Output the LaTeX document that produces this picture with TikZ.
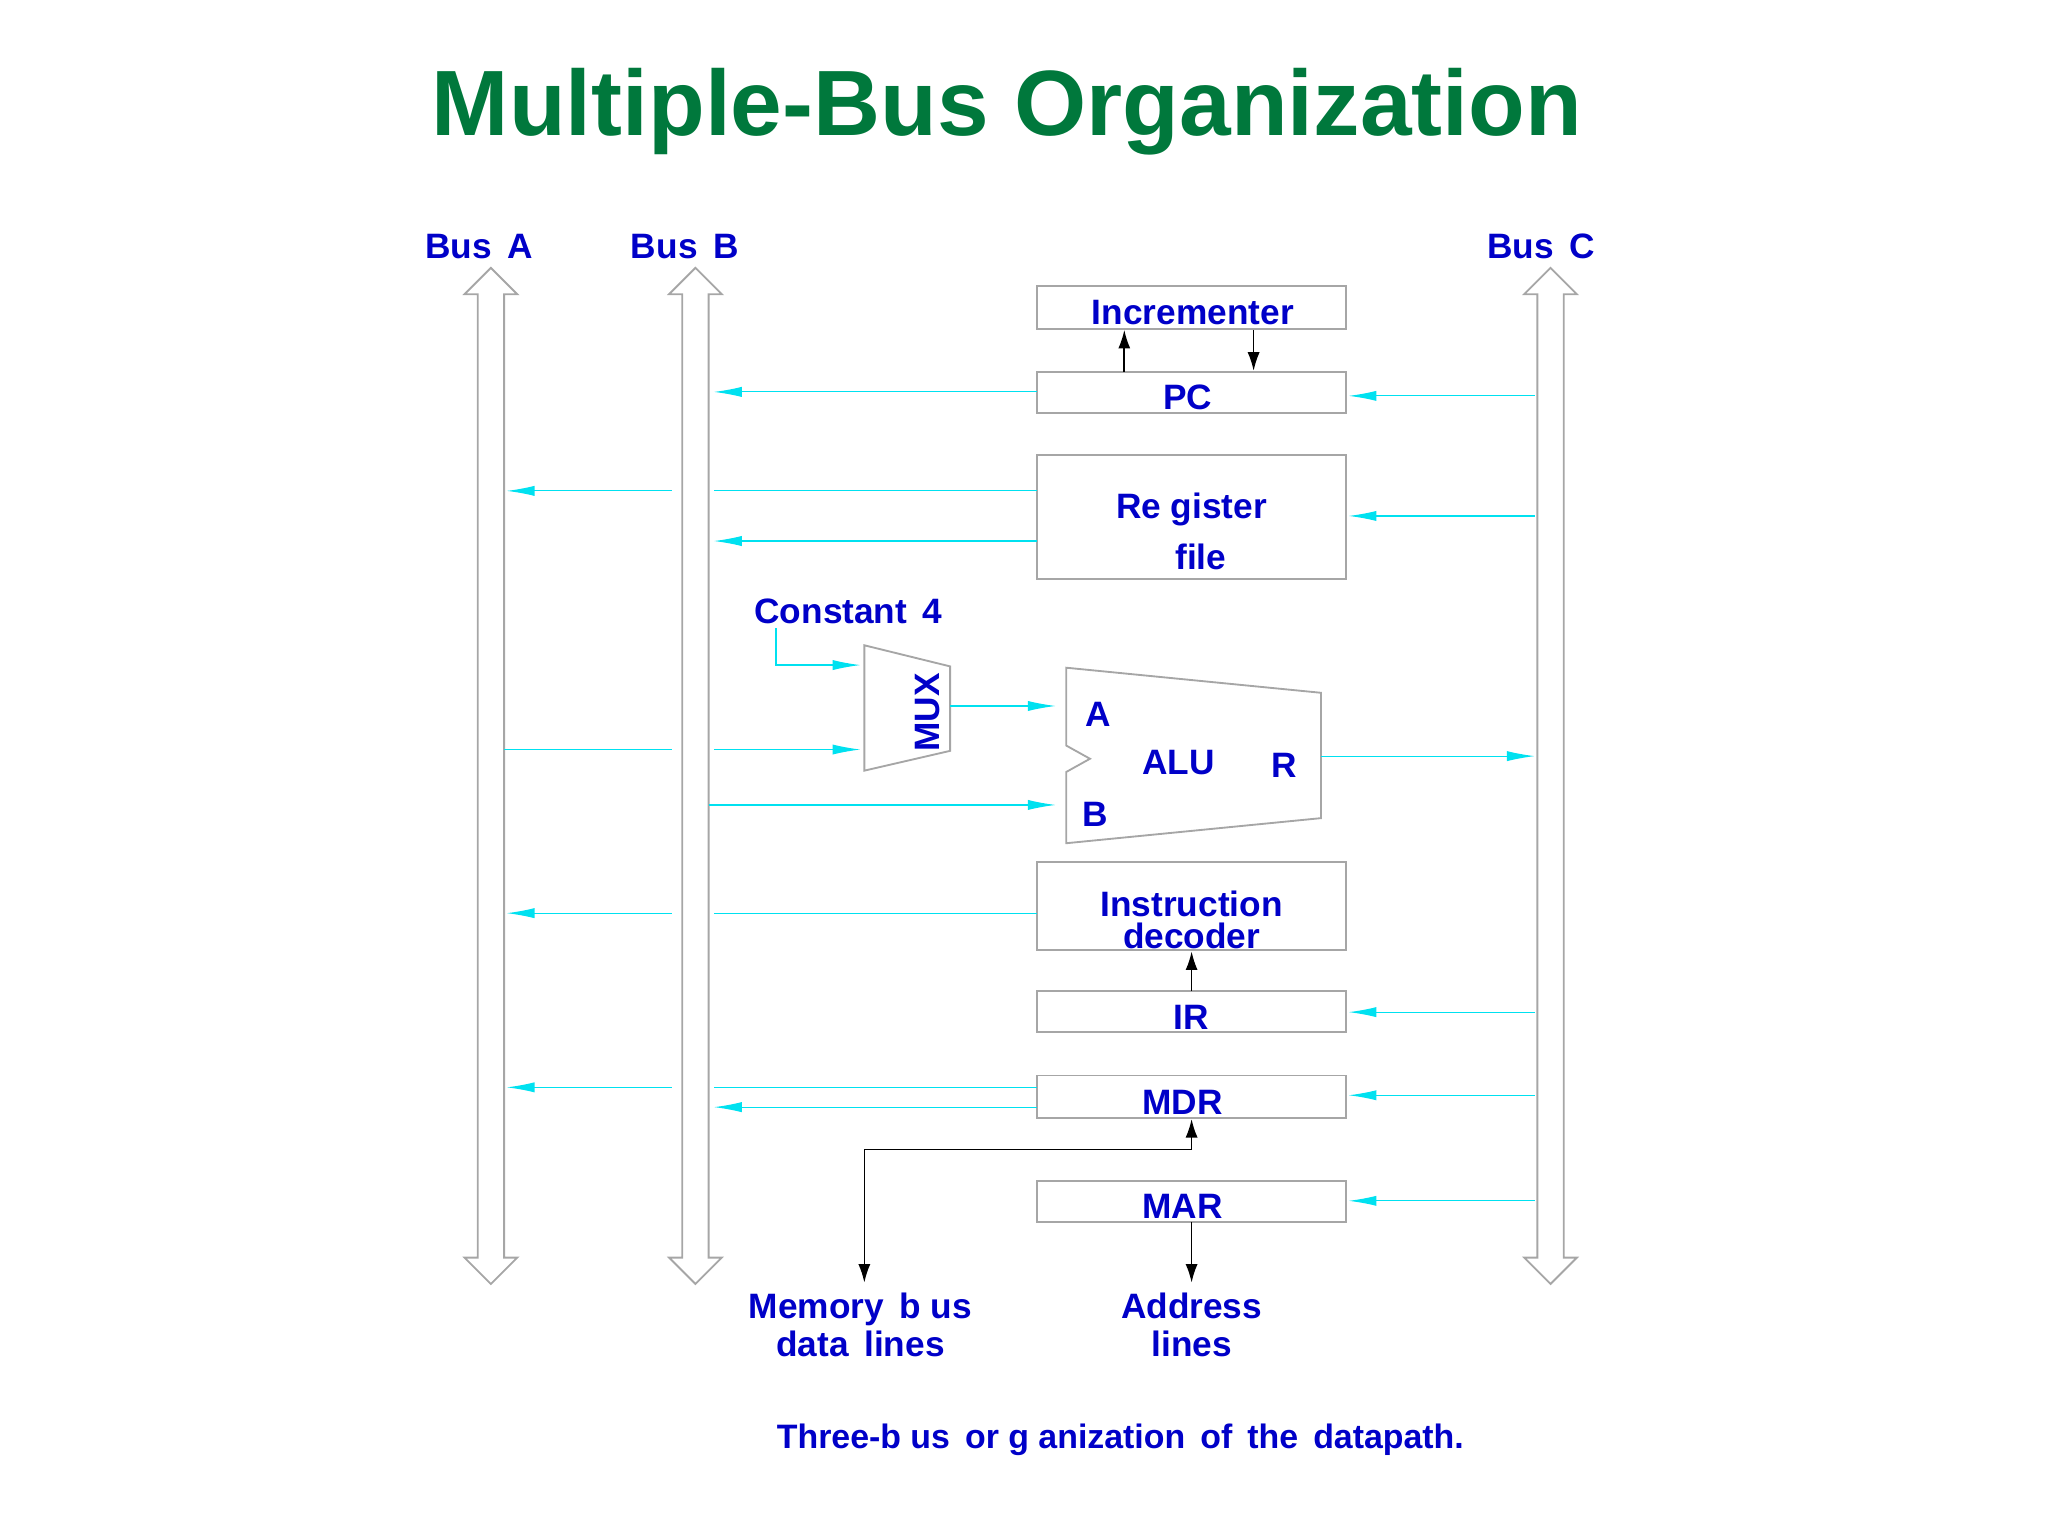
\documentclass[tikz,border=0pt]{standalone}
\usepackage{fontspec}
\setmainfont{Liberation Sans}
\usetikzlibrary{arrows.meta}
\definecolor{tgreen}{RGB}{0,120,60}
\definecolor{lblue}{RGB}{0,0,200}
\definecolor{cyanl}{RGB}{0,225,240}
\tikzset{
 lbl/.style={text=lblue,font=\fontsize{7.6}{9}\selectfont\bfseries,inner sep=0pt,align=center},
 box/.style={draw=gray!70,line width=0.4pt},
 cy/.style={draw=cyanl,line width=0.25pt},
 cya/.style={cy,-{Latex[length=6pt,width=2.2pt,fill=cyanl]}},
 blk/.style={draw=black,line width=0.35pt,-{Latex[length=4pt,width=2.6pt]}},
}
\begin{document}
\begin{tikzpicture}[x=0.01cm,y=-0.01cm]
\useasboundingbox (0,0) rectangle (1552,1164);
\node[text=tgreen,font=\fontsize{20}{24}\selectfont\bfseries] (title) at (763,85) {Multiple-Bus Organization};
% buses
\foreach \n/\x in {A/372,B/527,C/1175}{
 \draw[box] (\x-10,223) -- (\x-20,223) -- (\x,203) -- (\x+20,223) -- (\x+10,223) -- (\x+10,953) -- (\x+20,953) -- (\x,973) -- (\x-20,953) -- (\x-10,953) -- cycle;
 \coordinate (bus\n) at (\x,203);
}
\node[lbl] (lA) at (363,187) {Bus\, A};
\node[lbl] (lB) at (519,187) {Bus\, B};
\node[lbl] (lC) at (1168,187) {Bus\, C};
% boxes
\draw[box] (786,217) rectangle (1020,249); \node[lbl] (inc) at (904,237) {Incrementer};
\draw[box] (786,282) rectangle (1020,313); \node[lbl] (pc) at (900,301) {PC};
\draw[box] (786,345) rectangle (1020,439); \node[lbl] (rf1) at (903,386) {Re gister}; \node[lbl] (rf2) at (910,422) {file};
\draw[box] (786,653) rectangle (1020,720); \node[lbl] (id) at (903,697) {Instruction\\[-2pt]decoder};
\draw[box] (786,751) rectangle (1020,782); \node[lbl] (ir) at (903,771) {IR};
\draw[box] (786,815) rectangle (1020,847); \node[lbl] (mdr) at (896,835) {MDR};
\draw[box] (786,895) rectangle (1020,926); \node[lbl] (mar) at (896,914) {MAR};
% MUX and ALU
\draw[box] (655,489) -- (720,505) -- (720,569) -- (655,584) -- cycle;
\node[lbl,rotate=90] (mux) at (703,540) {MUX};
\draw[box] (808,506) -- (1001,525) -- (1001,620) -- (808,639) -- (808,585) -- (826,575) -- (808,565) -- cycle;
\node[lbl] (aA) at (832,541) {A};
\node[lbl] (alu) at (893,578) {ALU};
\node[lbl] (aR) at (973,580) {R};
\node[lbl] (aB) at (830,617) {B};
\node[lbl] (c4) at (643,463) {Constant\, 4};
% cyan connectors
\draw[cya] (786,297) -- (541,297);
\draw[cya] (1163,300) -- (1022,300);
\draw[cy] (786,372) -- (541,372); \draw[cya] (509,372) -- (384,372);
\draw[cya] (786,410) -- (541,410);
\draw[cya] (1163,391) -- (1022,391);
\draw[cya] (588,476) -- (588,504) -- (652,504);
\draw[cy] (382,568) -- (509,568); \draw[cya] (541,568) -- (652,568);
\draw[cya] (720,535) -- (800,535);
\draw[cya] (537,610) -- (800,610);
\draw[cya] (1001,573) -- (1163,573);
\draw[cy] (786,692) -- (541,692); \draw[cya] (509,692) -- (384,692);
\draw[cya] (1163,767) -- (1022,767);
\draw[cy] (786,824) -- (541,824); \draw[cya] (509,824) -- (384,824);
\draw[cya] (786,839) -- (541,839);
\draw[cya] (1163,830) -- (1022,830);
\draw[cya] (1163,910) -- (1022,910);
% black connectors
\draw[blk] (852,282) -- (852,250);
\draw[blk] (950,250) -- (950,281);
\draw[blk] (903,751) -- (903,721);
\draw[blk,{Latex[length=4pt,width=2.6pt]}-{Latex[length=4pt,width=2.6pt]}] (655,972) -- (655,871) -- (903,871) -- (903,848);
\draw[blk] (903,926) -- (903,972);
\node[lbl] (mem) at (652,1004) {Memory\, b us\\[-1pt]data\, lines};
\node[lbl] (addr) at (903,1004) {Address\\[-1pt]lines};
\node[lbl,font=\fontsize{7.3}{9}\selectfont\bfseries] (cap) at (849,1091) {Three-b us\, or g anization\, of\, the\, datapath.};
\end{tikzpicture}
\end{document}
